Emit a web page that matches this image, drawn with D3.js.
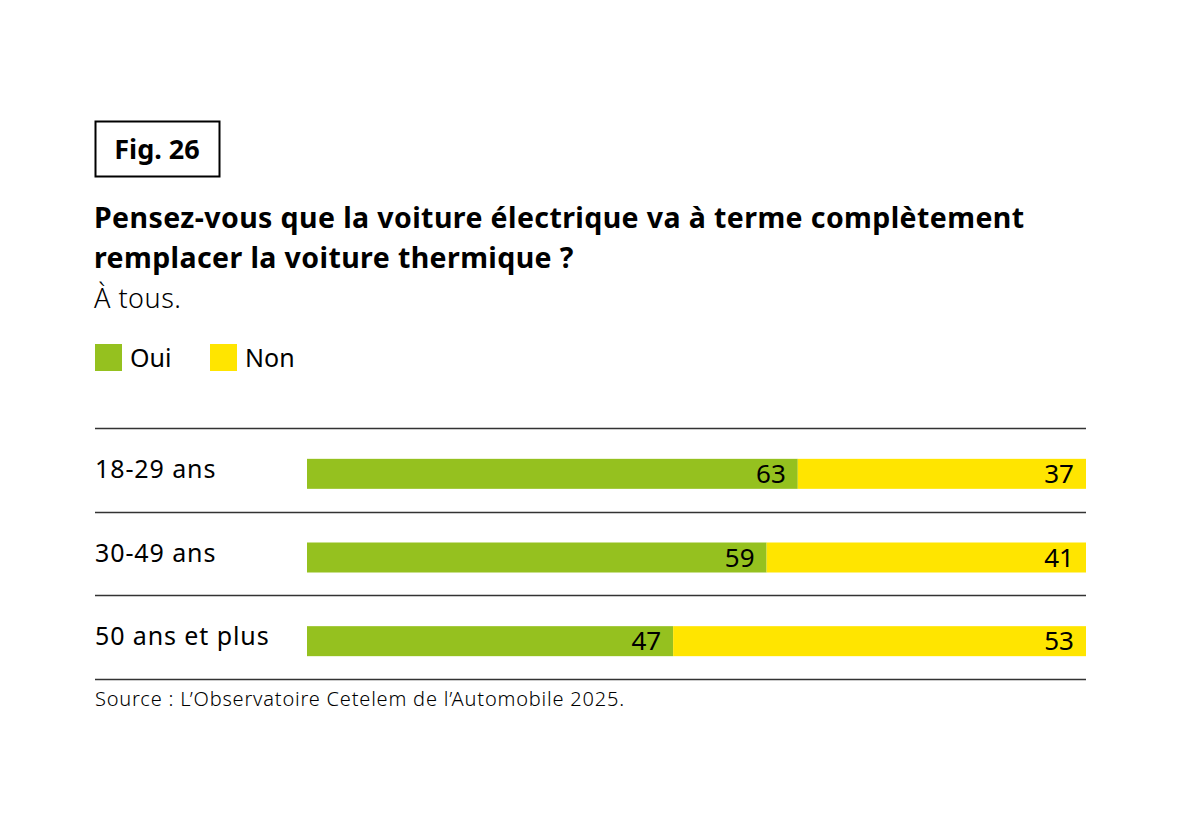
<html>
<head>
<meta charset="utf-8">
<title>fig26</title>
<script src="https://cdn.jsdelivr.net/npm/d3@7"></script>
<style>
  body { margin:0; padding:0; background:#fff; }
  text { font-family: "Noto Sans", Roboto, sans-serif; fill:#000; }
</style>
</head>
<body>
<svg id="chart" width="1181" height="827"></svg>
<script>
var categories = ["18-29 ans", "30-49 ans", "50 ans et plus"];
var oui = [63, 59, 47];
var non = [37, 41, 53];
var seriesNames = ["Oui", "Non"];
var colors = ["#95c11f", "#ffe500"];

var svg = d3.select("#chart");

// fig box
svg.append("rect").attr("x", 95.5).attr("y", 121.5).attr("width", 124).attr("height", 55)
  .attr("fill", "none").attr("stroke", "#000").attr("stroke-width", 2);
svg.append("text").attr("x", 157).attr("y", 159).attr("text-anchor", "middle")
  .attr("font-size", 27).attr("font-weight", 700).text("Fig. 26");

// title
var title = ["Pensez-vous que la voiture électrique va à terme complètement",
             "remplacer la voiture thermique ?"];
svg.selectAll("text.title").data(title).enter().append("text")
  .attr("class", "title")
  .attr("x", 94).attr("y", function(d, i) { return 228 + i * 40; })
  .attr("font-size", 28.5).attr("font-weight", 700).attr("letter-spacing", 0.4)
  .text(function(d) { return d; });
svg.append("text").attr("x", 94).attr("y", 308).attr("font-size", 27).attr("font-weight", 300)
  .attr("letter-spacing", 0.5).text("À tous.");

// legend
var legend = svg.selectAll("g.leg").data(seriesNames).enter().append("g")
  .attr("class", "leg")
  .attr("transform", function(d, i) { return "translate(" + (95 + i * 115) + ",344)"; });
legend.append("rect").attr("width", 27).attr("height", 27)
  .attr("fill", function(d, i) { return colors[i]; });
legend.append("text").attr("x", 35).attr("y", 23).attr("font-size", 25).text(function(d) { return d; });

// scales
var x = d3.scaleLinear().domain([0, 100]).range([307, 1086]);
var band = d3.scaleBand().domain(categories).range([428, 679]);
var barH = 30;

var rows = svg.selectAll("g.row").data(categories).enter().append("g").attr("class", "row");

// separators
var seps = d3.range(categories.length + 1).map(function(i) { return 428 + i * band.step(); });
svg.selectAll("line.sep").data(seps).enter().append("line")
  .attr("x1", 95).attr("x2", 1086)
  .attr("y1", function(d) { return Math.round(d) + 0.5; })
  .attr("y2", function(d) { return Math.round(d) + 0.5; })
  .attr("stroke", "#333").attr("stroke-width", 1.3);

function barY(c) { return band(c) + band.bandwidth() / 2 - barH / 2 + 4; }

rows.append("text").attr("x", 95)
  .attr("y", function(d) { return band(d) + band.bandwidth() / 2 + 8; })
  .attr("font-size", 25).attr("letter-spacing", 0.9).text(function(d) { return d; });

rows.append("rect").attr("x", x(0))
  .attr("y", function(d) { return barY(d); })
  .attr("width", function(d, i) { return x(oui[i]) - x(0); })
  .attr("height", barH).attr("fill", colors[0]);
rows.append("rect").attr("x", function(d, i) { return x(oui[i]); })
  .attr("y", function(d) { return barY(d); })
  .attr("width", function(d, i) { return x(oui[i] + non[i]) - x(oui[i]); })
  .attr("height", barH).attr("fill", colors[1]);

rows.append("text").attr("text-anchor", "end")
  .attr("x", function(d, i) { return x(oui[i]) - 12; })
  .attr("y", function(d) { return barY(d) + barH / 2 + 9; })
  .attr("font-size", 26).text(function(d, i) { return oui[i]; });
rows.append("text").attr("text-anchor", "end")
  .attr("x", function(d, i) { return x(oui[i] + non[i]) - 12; })
  .attr("y", function(d) { return barY(d) + barH / 2 + 9; })
  .attr("font-size", 26).text(function(d, i) { return non[i]; });

svg.append("text").attr("x", 95).attr("y", 706).attr("font-size", 20).attr("font-weight", 300)
  .attr("letter-spacing", 0.8)
  .text("Source : L’Observatoire Cetelem de l’Automobile 2025.");
</script>
</body>
</html>
